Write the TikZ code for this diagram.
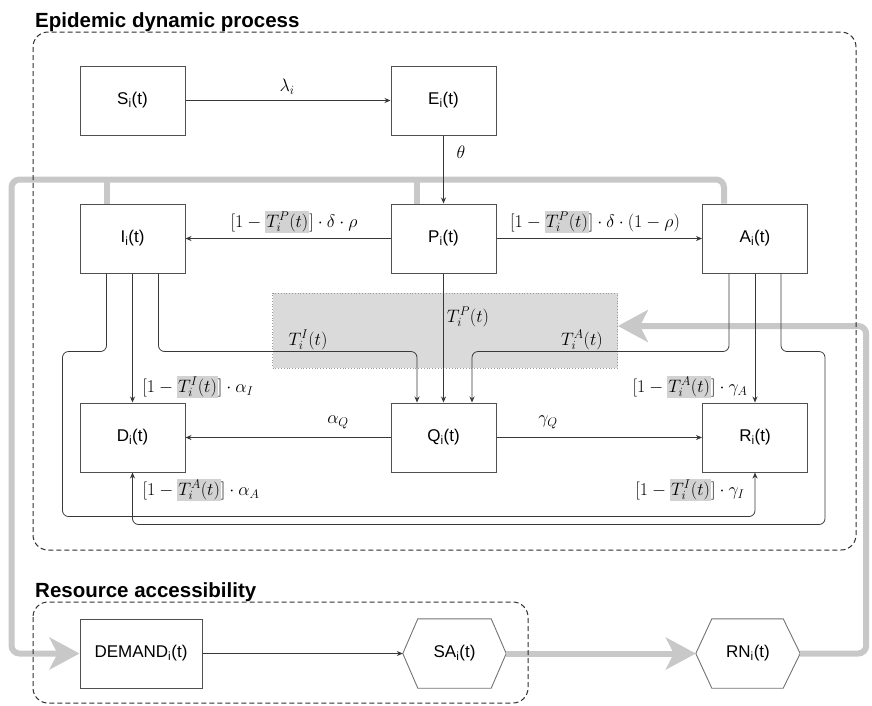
\RequirePackage{fix-cm}
\documentclass[tikz,border=0pt]{standalone}
\usepackage{fontspec}
\newfontfamily\boxfont{Liberation Sans}
\usetikzlibrary{arrows.meta,calc}

\definecolor{linecol}{HTML}{383838}
\definecolor{boxcol}{HTML}{505050}
\definecolor{flowgray}{HTML}{C8C8C8}
\definecolor{hlgray}{HTML}{D2D2D2}
\definecolor{shadegray}{HTML}{DADADA}
\definecolor{grpcol}{HTML}{2E2E2E}

% grey highlight behind a testing-rate term
\newcommand\hlbox[1]{{\setlength{\fboxsep}{1pt}\colorbox{hlgray}{$#1$}}}

\tikzset{
  stagebox/.style={draw=boxcol, line width=1pt, fill=white,
    minimum width=105pt, minimum height=69pt, inner sep=0pt,
    font=\boxfont\fontsize{17}{20}\selectfont},
  hexnode/.style={minimum width=103pt, minimum height=69pt, inner sep=0pt,
    font=\boxfont\fontsize{17}{20}\selectfont},
  hexline/.style={draw=boxcol!80, line width=0.9pt, fill=white},
  flow/.style={draw=linecol, line width=0.8pt, rounded corners=6pt,
    -{Stealth[length=6pt,width=5pt]}},
  bigflow/.style={draw=flowgray, line width=6pt, rounded corners=8pt},
  bigtip/.style={-{Stealth[length=30pt,width=32pt,inset=8pt]}},
  lbl/.style={inner sep=0pt, font=\fontsize{18}{21}\selectfont},
  grp/.style={draw=grpcol, line width=1pt, dash pattern=on 5pt off 3pt,
    rounded corners=15pt},
  grptitle/.style={anchor=base west, inner sep=0pt,
    font=\boxfont\bfseries\fontsize{20.5}{23}\selectfont},
}

\begin{document}
\begin{tikzpicture}[x=1pt,y=-1pt]
\useasboundingbox (0,0) rectangle (872,705);

% testing area
\node[draw=gray!80, dotted, line width=0.8pt, fill=shadegray,
  minimum width=345pt, minimum height=75pt, inner sep=0pt] (tbox) at (445,330.5) {};

% compartments
\node[stagebox] (s) at (132.5,100.5) {S\textsubscript{i}(t)};
\node[stagebox] (e) at (443.5,100.5) {E\textsubscript{i}(t)};
\node[stagebox] (i) at (132.5,238.5) {I\textsubscript{i}(t)};
\node[stagebox] (p) at (443.5,238.5) {P\textsubscript{i}(t)};
\node[stagebox] (a) at (755,238.5) {A\textsubscript{i}(t)};
\node[stagebox] (d) at (132.5,437.5) {D\textsubscript{i}(t)};
\node[stagebox] (q) at (443.5,437.5) {Q\textsubscript{i}(t)};
\node[stagebox] (r) at (755,437.5) {R\textsubscript{i}(t)};

% resources
\node[stagebox, minimum width=122pt] (demand) at (141,653.5) {DEMAND\textsubscript{i}(t)};
\node[hexnode] (sa) at (454.5,653.5) {};
\draw[hexline] (sa.west) -- ([xshift=15pt]sa.north west) -- ([xshift=-15pt]sa.north east)
  -- (sa.east) -- ([xshift=-15pt]sa.south east) -- ([xshift=15pt]sa.south west) -- cycle;
\node[hexnode] at (sa) {SA\textsubscript{i}(t)};
\node[hexnode, minimum width=104pt] (rn) at (748,653.5) {};
\draw[hexline] (rn.west) -- ([xshift=16pt]rn.north west) -- ([xshift=-17pt]rn.north east)
  -- (rn.east) -- ([xshift=-17pt]rn.south east) -- ([xshift=16pt]rn.south west) -- cycle;
\node[hexnode] at (rn) {RN\textsubscript{i}(t)};

% demand bus
\draw[bigflow, bigtip] ([xshift=-31pt]a.north) -- ++(0,-24)
  -| ($(demand.west)+(-68,0)$) -- (demand.west);
\draw[bigflow] ([xshift=-26pt]i.north) -- ++(0,-26);
\draw[bigflow] ([xshift=-26.5pt]p.north) -- ++(0,-26);
% resource feedback
\draw[bigflow, bigtip] (sa.east) -- (rn.west);
\draw[bigflow, bigtip] (rn.east) -- ++(66,0) |- ([yshift=4.5pt]tbox.east);

% group frames
\draw[grp] (33,32) rectangle (856,550);
\draw[grp] (33,602) rectangle (528,703);
\node[grptitle] (t1) at (35,27) {Epidemic dynamic process};
\node[grptitle] (t2) at (35,597) {Resource accessibility};

% transitions
\draw[flow] (s) -- (e);
\draw[flow] (e) -- (p);
\draw[flow] (p) -- (i);
\draw[flow] (p) -- (a);
\draw[flow] (p) -- (q);
\draw[flow] (q) -- (d);
\draw[flow] (q) -- (r);
\draw[flow] (i) -- (d);
\draw[flow] (a) -- (r);
\draw[flow] ([xshift=26pt]i.south) -- ++(0,78) -| ([xshift=-26.5pt]q.north);
\draw[flow] ([xshift=-26pt]a.south) -- ++(0,78) -| ([xshift=28.5pt]q.north);
\draw[flow] ([xshift=-26pt]i.south) -- ++(0,78) -- ++(-44,0) |- ($(r.south)+(0,44)$) -- (r.south);
\draw[flow] ([xshift=26pt]a.south) -- ++(0,78) -- ++(44,0) |- ($(d.south)+(0,52)$) -- (d.south);
\draw[flow] (demand) -- (sa.west);

% rates
\node[lbl] (l1) at (287,87) {$\lambda_i$};
\node[lbl] (l2) at (461,152) {$\theta$};
\node[lbl] (l3) at (294,222) {$\bigl[1-\hlbox{T_i^P(t)}\bigr]\cdot\delta\cdot\rho$};
\node[lbl] (l4) at (595,222) {$\bigl[1-\hlbox{T_i^P(t)}\bigr]\cdot\delta\cdot(1-\rho)$};
\node[lbl] (l5) at (198,387) {$\bigl[1-\hlbox{T_i^I(t)}\bigr]\cdot\alpha_I$};
\node[lbl] (l6) at (201,490) {$\bigl[1-\hlbox{T_i^A(t)}\bigr]\cdot\alpha_A$};
\node[lbl] (l7) at (690,387) {$\bigl[1-\hlbox{T_i^A(t)}\bigr]\cdot\gamma_A$};
\node[lbl] (l8) at (690,490) {$\bigl[1-\hlbox{T_i^I(t)}\bigr]\cdot\gamma_I$};
\node[lbl] (l9) at (338,422) {$\alpha_Q$};
\node[lbl] (l10) at (548,422) {$\gamma_Q$};
\node[lbl] (t11) at (308,340) {$T_i^I(t)$};
\node[lbl] (t12) at (468,317) {$T_i^P(t)$};
\node[lbl] (t13) at (582,340) {$T_i^A(t)$};
\end{tikzpicture}
\end{document}
